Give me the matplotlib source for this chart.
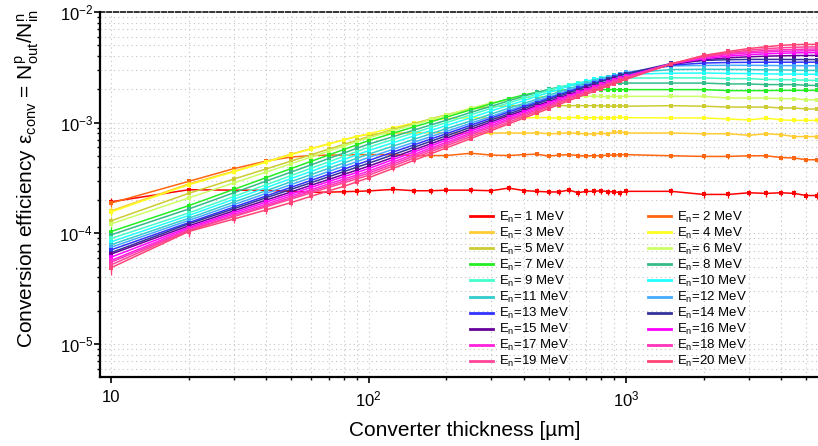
import numpy as np
import matplotlib
matplotlib.use("Agg")
import matplotlib.pyplot as plt
from matplotlib.lines import Line2D
from matplotlib.ticker import FixedLocator, FixedFormatter, LogLocator, NullFormatter

# ---------------- data (efficiency in units of 1e-4) ----------------
thickness_um = [10, 20, 30, 40, 50, 60, 70, 80, 90, 100, 125, 150, 175, 200,
                250, 300, 350, 400, 450, 500, 550, 600, 650, 700, 750, 800, 850, 900, 950, 1000,
                1500, 2000, 2500, 3000, 3500, 4000, 4500, 5000, 5500]
energies_MeV = list(range(1, 21))
UNIT = 1e-4
N_IN = 1e6  # incident neutrons per point (sets statistical error bars)

eff_01MeV = [1.93, 2.48, 2.46, 2.45, 2.4, 2.35, 2.36, 2.38, 2.4, 2.42, 2.5, 2.43, 2.43, 2.46,
             2.46, 2.43, 2.57, 2.44, 2.40, 2.37, 2.37, 2.47, 2.33, 2.4, 2.4, 2.43, 2.38, 2.38, 2.33, 2.4,
             2.4, 2.25, 2.25, 2.33, 2.3, 2.33, 2.3, 2.2, 2.2]
eff_02MeV = [1.88, 2.95, 3.85, 4.5, 4.9, 5.05, 5.1, 5.1, 5.15, 5.15, 5.15, 5.05, 5.05, 5.05,
             5.3, 5.1, 5.05, 5.15, 5.2, 5.0, 5.1, 5.15, 5.05, 5.0, 5.05, 5.03, 5.1, 5.1, 5.15, 5.15,
             5.03, 4.96, 4.96, 5.03, 5.03, 4.85, 4.8, 4.63, 4.63]
eff_03MeV = [1.6, 2.8, 3.65, 4.45, 5.2, 5.85, 6.45, 7.0, 7.5, 7.85, 8.05, 8.1, 8.15, 8.1,
             8.0, 8.05, 8.1, 8.05, 8.1, 7.95, 8.0, 8.1, 8.0, 7.95, 7.9, 8.07, 7.9, 8.2, 8.25, 8.07,
             8.07, 7.95, 7.95, 7.7, 7.95, 7.8, 7.5, 7.5, 7.5]
eff_04MeV = [1.56, 2.75, 3.6, 4.4, 5.15, 5.8, 6.4, 7.0, 7.5, 7.95, 9.0, 9.95, 10.6, 10.9,
             11.1, 11.1, 11.2, 11.0, 11.15, 11.1, 11.0, 11.1, 11.15, 11.05, 11.1, 11.1, 11.05, 11.1, 11.2, 11.1,
             11.05, 11.05, 10.8, 10.6, 11.0, 10.6, 10.5, 10.5, 10.5]
eff_05MeV = [1.3, 2.3, 3.1, 3.82, 4.5, 5.15, 5.77, 6.36, 6.94, 7.5, 8.7, 9.8, 10.85, 11.8,
             13.3, 14.0, 14.2, 14.3, 14.4, 14.2, 14.3, 14.2, 14.3, 14.2, 14.3, 14.25, 14.1, 14.1, 14.25, 14.1,
             14.25, 14.1, 13.85, 13.85, 13.85, 13.6, 13.6, 13.3, 13.3]
eff_06MeV = [1.22, 2.09, 2.86, 3.58, 4.26, 4.91, 5.53, 6.14, 6.73, 7.3, 8.5, 9.6, 10.7, 11.65,
             13.55, 15.1, 16.2, 16.8, 17.1, 17.25, 17.3, 17.2, 17.3, 17.4, 17.3, 17.3, 17.2, 17.3, 17.25, 17.3,
             17.3, 17.3, 16.7, 16.7, 16.7, 16.5, 16.5, 16.1, 16.1]
eff_07MeV = [1.04, 1.78, 2.5, 3.19, 3.85, 4.49, 5.11, 5.72, 6.31, 6.9, 8.07, 9.16, 10.2, 11.2,
             13.1, 14.85, 16.45, 17.8, 18.8, 19.3, 19.6, 19.8, 19.9, 20.0, 19.95, 19.9, 19.9, 19.9, 19.9, 19.9,
             19.9, 19.9, 19.5, 19.5, 19.5, 19.6, 19.6, 19.6, 19.6]
eff_08MeV = [0.97, 1.66, 2.33, 2.97, 3.58, 4.17, 4.75, 5.31, 5.87, 6.4, 7.5, 8.57, 9.57, 10.5,
             12.4, 14.1, 15.75, 17.35, 18.75, 20.0, 21.0, 21.7, 22.2, 22.4, 22.6, 22.7, 22.8, 22.8, 22.8, 22.8,
             22.8, 22.8, 22.4, 22.4, 22.1, 22.1, 22.1, 21.8, 21.7]
eff_09MeV = [0.90, 1.53, 2.16, 2.75, 3.33, 3.89, 4.43, 4.96, 5.49, 6.0, 7.08, 8.1, 9.08, 10.0,
             11.8, 13.5, 15.1, 16.6, 18.1, 19.55, 20.9, 22.0, 22.9, 23.65, 24.2, 24.55, 24.8, 25.0, 25.2, 25.3,
             25.4, 25.4, 25.0, 25.0, 24.6, 24.5, 24.4, 24.2, 24.1]
eff_10MeV = [0.84, 1.45, 2.04, 2.59, 3.13, 3.64, 4.15, 4.64, 5.12, 5.6, 6.62, 7.59, 8.51, 9.42,
             11.1, 12.8, 14.3, 15.8, 17.3, 18.7, 20.05, 21.35, 22.5, 23.6, 24.6, 25.4, 26.1, 26.6, 27.0, 27.4,
             28.0, 28.1, 27.9, 27.8, 27.6, 27.5, 27.5, 27.4, 27.4]
eff_11MeV = [0.79, 1.37, 1.92, 2.43, 2.93, 3.41, 3.87, 4.32, 4.77, 5.2, 6.16, 7.08, 7.96, 8.81,
             10.4, 12.0, 13.5, 14.9, 16.3, 17.7, 19.0, 20.3, 21.5, 22.7, 23.8, 24.9, 25.8, 26.7, 27.5, 28.1,
             30.2, 30.4, 30.3, 30.2, 30.0, 30.0, 29.8, 29.7, 29.7]
eff_12MeV = [0.75, 1.31, 1.82, 2.30, 2.76, 3.2, 3.63, 4.04, 4.45, 4.85, 5.77, 6.65, 7.51, 8.33,
             9.91, 11.4, 12.9, 14.3, 15.7, 17.0, 18.3, 19.6, 20.85, 22.05, 23.3, 24.5, 25.5, 26.6, 27.6, 28.45,
             32.6, 32.9, 33.0, 33.0, 32.9, 32.8, 32.8, 32.7, 32.7]
eff_13MeV = [0.71, 1.25, 1.73, 2.18, 2.61, 3.02, 3.42, 3.80, 4.18, 4.55, 5.45, 6.30, 7.14, 7.94,
             9.5, 11.0, 12.5, 13.9, 15.2, 16.6, 17.9, 19.1, 20.4, 21.6, 22.7, 23.8, 24.8, 25.85, 26.8, 27.7,
             33.1, 34.6, 35.0, 35.1, 35.2, 35.2, 35.2, 35.2, 35.2]
eff_14MeV = [0.67, 1.22, 1.67, 2.10, 2.50, 2.88, 3.25, 3.61, 3.96, 4.3, 5.16, 6.0, 6.81, 7.59,
             9.12, 10.6, 12.0, 13.4, 14.8, 16.1, 17.4, 18.65, 19.9, 21.2, 22.3, 23.5, 24.6, 25.6, 26.7, 27.7,
             34.3, 36.5, 37.1, 37.3, 37.3, 37.3, 37.2, 37.2, 37.2]
eff_15MeV = [0.65, 1.17, 1.60, 2.0, 2.37, 2.73, 3.07, 3.41, 3.73, 4.05, 4.88, 5.69, 6.47, 7.24,
             8.73, 10.2, 11.6, 12.9, 14.3, 15.5, 16.8, 18.0, 19.15, 20.4, 21.45, 22.5, 23.6, 24.6, 25.6, 26.5,
             33.5, 37.0, 38.6, 39.4, 39.9, 40.2, 40.4, 40.5, 40.5]
eff_16MeV = [0.61, 1.13, 1.54, 1.92, 2.27, 2.61, 2.94, 3.25, 3.55, 3.85, 4.66, 5.44, 6.20, 6.95,
             8.4, 9.82, 11.2, 12.5, 13.9, 15.1, 16.4, 17.6, 18.8, 19.95, 21.1, 22.2, 23.25, 24.3, 25.3, 26.3,
             34.0, 37.9, 40.0, 41.2, 41.9, 42.4, 42.7, 42.9, 43.0]
eff_17MeV = [0.57, 1.10, 1.49, 1.84, 2.18, 2.49, 2.80, 3.09, 3.37, 3.65, 4.43, 5.18, 5.93, 6.65,
             8.07, 9.45, 10.8, 12.1, 13.4, 14.65, 15.9, 17.1, 18.4, 19.5, 20.65, 21.8, 22.9, 24.0, 24.9, 26.0,
             34.2, 38.8, 41.3, 42.8, 43.6, 44.1, 44.4, 44.6, 44.7]
eff_18MeV = [0.55, 1.07, 1.44, 1.78, 2.10, 2.41, 2.69, 2.97, 3.24, 3.5, 4.25, 4.99, 5.71, 6.42,
             7.8, 9.14, 10.5, 11.8, 13.0, 14.3, 15.5, 16.7, 17.9, 19.1, 20.2, 21.25, 22.4, 23.5, 24.5, 25.6,
             34.1, 39.3, 42.2, 43.9, 44.9, 45.5, 45.9, 46.2, 46.3]
eff_19MeV = [0.52, 1.06, 1.42, 1.74, 2.04, 2.33, 2.60, 2.86, 3.11, 3.35, 4.08, 4.79, 5.49, 6.18,
             7.5, 8.8, 10.1, 11.4, 12.6, 13.9, 15.1, 16.25, 17.4, 18.6, 19.8, 20.8, 21.9, 23.0, 24.1, 25.1,
             34.0, 39.8, 43.0, 45.2, 46.6, 47.5, 48.0, 48.3, 48.3]
eff_20MeV = [0.49, 1.04, 1.35, 1.63, 1.9, 2.17, 2.42, 2.66, 2.92, 3.18, 3.88, 4.57, 5.25, 5.91,
             7.2, 8.5, 9.75, 11.0, 12.2, 13.4, 14.6, 15.8, 17.0, 18.1, 19.2, 20.3, 21.4, 22.5, 23.6, 24.6,
             34.0, 40.5, 44.0, 46.8, 48.5, 50.0, 50.7, 51.0, 51.0]

series = [eff_01MeV, eff_02MeV, eff_03MeV, eff_04MeV, eff_05MeV, eff_06MeV, eff_07MeV,
          eff_08MeV, eff_09MeV, eff_10MeV, eff_11MeV, eff_12MeV, eff_13MeV, eff_14MeV,
          eff_15MeV, eff_16MeV, eff_17MeV, eff_18MeV, eff_19MeV, eff_20MeV]

colors = ['#ff0000', '#ff6611', '#ffcc33', '#ffff22', '#cccc33', '#ccff66', '#22ee22',
          '#33bb88', '#44ffcc', '#22ffff', '#33cccc', '#44aaff', '#3333ff', '#333399',
          '#660099', '#ff00ff', '#ff22dd', '#ff33bb', '#ff4499', '#ff4477']

x_major = [10, 100, 1000]
x_major_labels = ['10', r'$10^{2}$', r'$10^{3}$']
y_major = [1e-5, 1e-4, 1e-3, 1e-2]
y_major_labels = [r'$10^{-5}$', r'$10^{-4}$', r'$10^{-3}$', r'$10^{-2}$']

# ---------------- style ----------------
plt.rcParams['font.family'] = ['Liberation Sans', 'DejaVu Sans']
plt.rcParams['mathtext.fontset'] = 'custom'
plt.rcParams['mathtext.rm'] = 'Liberation Sans'
plt.rcParams['mathtext.it'] = 'Liberation Sans:italic'
plt.rcParams['mathtext.bf'] = 'Liberation Sans:bold'

W, H = 818, 446
fig = plt.figure(figsize=(W / 100, H / 100), dpi=100)
ax = fig.add_axes([100 / W, (H - 377) / H, (W - 100) / W, (377 - 12) / H])
ax.set_xscale('log')
ax.set_yscale('log')
ax.set_xlim(9.06, 5567)
ax.set_ylim(5.05e-6, 1e-2)

ax.grid(True, which='both', linestyle=(0, (1, 3)), color='#c4c4c4', linewidth=0.8)
ax.set_axisbelow(True)

x = np.array(thickness_um, dtype=float)
for vals, col in zip(series, colors):
    y = np.array(vals) * UNIT
    yerr = np.sqrt(y / N_IN)
    ax.errorbar(x, y, yerr=yerr, color=col, lw=1.1, marker='s', ms=2.6, mew=0,
                capsize=1.3, elinewidth=0.9, capthick=0.9)

ax.xaxis.set_major_locator(FixedLocator(x_major))
ax.xaxis.set_major_formatter(FixedFormatter(x_major_labels))
ax.xaxis.set_minor_locator(LogLocator(base=10, subs=np.arange(2, 10)))
ax.xaxis.set_minor_formatter(NullFormatter())
ax.yaxis.set_major_locator(FixedLocator(y_major))
ax.yaxis.set_major_formatter(FixedFormatter(y_major_labels))
ax.yaxis.set_minor_locator(LogLocator(base=10, subs=np.arange(2, 10)))
ax.yaxis.set_minor_formatter(NullFormatter())

ax.tick_params(which='major', direction='out', length=4, width=1.2, labelsize=12)
ax.tick_params(axis='y', which='major', pad=1)
ax.tick_params(axis='x', which='major', pad=5)
ax.tick_params(which='minor', direction='out', length=2.5, width=1.0)

ax.spines['right'].set_visible(False)
ax.spines['left'].set_linewidth(1.6)
ax.spines['bottom'].set_linewidth(1.6)
ax.spines['top'].set_linewidth(1.1)
ax.spines['top'].set_linestyle((0, (3, 1.5)))

fig.text(27 / W, 1 - 9 / H,
         r'Conversion efficiency $\mathrm{\varepsilon}_{\mathrm{conv}}$ = '
         r'$\mathrm{N}^{\mathrm{p}}_{\mathrm{out}}$/$\mathrm{N}^{\mathrm{n}}_{\mathrm{in}}$',
         rotation=90, ha='center', va='top', fontsize=15)
fig.text(465 / W, 1 - 430 / H, 'Converter thickness [µm]', ha='center', va='center', fontsize=15)

# legend: two columns, odd energies left, even energies right
labels = [(r'E$_{\mathrm{n}}$=%d MeV' % e) if e >= 10 else (r'E$_{\mathrm{n}}$= %d MeV' % e)
          for e in energies_MeV]
handles = [Line2D([0], [0], color=c, lw=2.0) for c in colors]
order = list(range(0, 20, 2)) + list(range(1, 20, 2))
leg = ax.legend([handles[i] for i in order], [labels[i] for i in order], ncol=2,
                loc='upper left', bbox_to_anchor=(470 / W, 1 - 210 / H),
                bbox_transform=fig.transFigure, frameon=False, fontsize=9.5,
                handlelength=1.75, handletextpad=0.45, columnspacing=6.0,
                labelspacing=0.07, borderpad=0, borderaxespad=0)

fig.savefig('out.png', dpi=100)
